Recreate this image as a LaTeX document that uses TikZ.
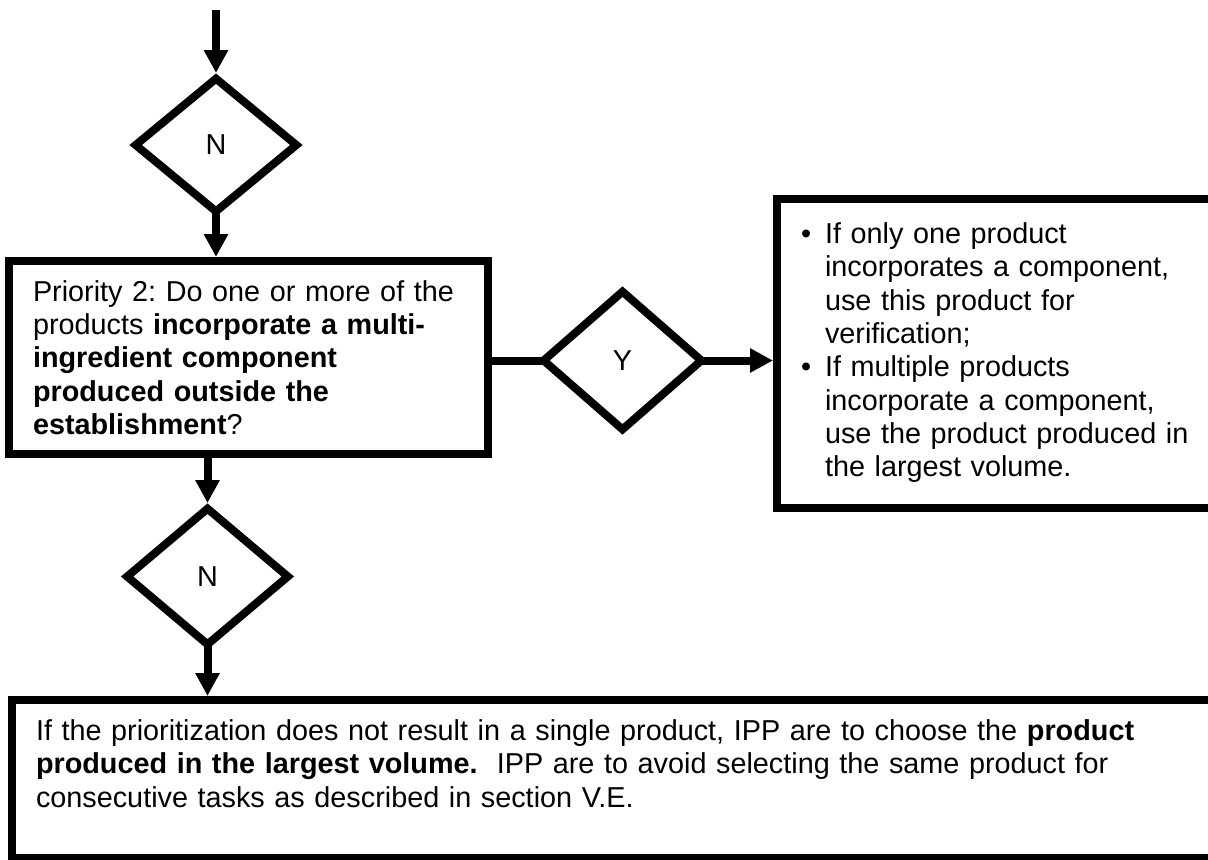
\documentclass[tikz,border=0pt]{standalone}
\usepackage{fontspec}
\setmainfont{Liberation Sans}
\usetikzlibrary{arrows.meta,shapes.geometric}

\begin{document}
\begin{tikzpicture}[x=0.5pt,y=-0.5pt,line width=4pt,
  font=\fontsize{14.4pt}{16.67pt}\selectfont\frenchspacing,
  frame/.style={draw,rectangle,inner sep=0pt,align=left},
  choice/.style={draw,diamond,inner sep=0pt,minimum width=82pt,minimum height=68pt},
  flow/.style={-{Triangle[length=11.5pt,width=11.5pt]}}]
\clip (0,0) rectangle (1208,859);

\coordinate (in) at (216,10);
\node[choice] (n1) at (216,145){N};
\node[frame,minimum width=239.5pt,minimum height=96.5pt,text width=215.5pt] (p2) at (248.5,357.5){Priority 2: Do one or more of the\\
products \textbf{incorporate a multi-}\\
\textbf{ingredient component}\\
\textbf{produced outside the}\\
\textbf{establishment}?};
\node[choice,minimum height=69.5pt] (n2) at (207.5,576.5){N};
\node[choice,minimum width=80.5pt,minimum height=70.5pt] (y) at (622.5,360.5){Y};
\node[frame,minimum width=221.5pt,minimum height=154.5pt,text width=197.5pt] (use) at (998.5,353.5){%
\begin{tabular}{@{}l@{}l@{}}
\makebox[12pt][l]{\textbullet} & If only one product\\
 & incorporates a component,\\
 & use this product for\\
 & verification;\\
\makebox[12pt][l]{\textbullet} & If multiple products\\
 & incorporate a component,\\
 & use the product produced in\\
 & the largest volume.
\end{tabular}};
\node[frame,minimum width=604pt,minimum height=79pt,text width=580pt] (pick) at (616,779){If the prioritization does not result in a single product, IPP are to choose the \textbf{product}\\
\textbf{produced in the largest volume.}\ \ IPP are to avoid selecting the same product for\\
consecutive tasks as described in section V.E.\rule[-15.5pt]{0pt}{15.5pt}};

\draw[flow] (in) -- (n1.north);
\draw[flow,shorten <=-3pt] (n1.south) -- (n1.south |- p2.north);
\draw[shorten >=-3pt] (y.west -| p2.east) -- (y.west);
\draw[flow,shorten <=-3pt] (y.east) -- (y.east -| use.west);
\draw[flow] (p2.south -| n2.north) -- (n2.north);
\draw[flow,shorten <=-3pt] (n2.south) -- (n2.south |- pick.north);

\end{tikzpicture}
\end{document}
